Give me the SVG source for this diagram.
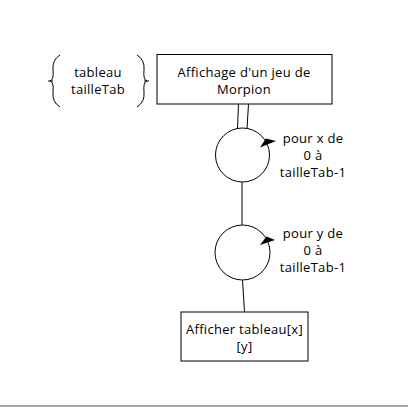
<svg xmlns="http://www.w3.org/2000/svg" width="408" height="407" viewBox="0 0 408 407">
<style>
.box{fill:#fff;stroke:#000;stroke-width:1}
.ln{fill:none;stroke:#000;stroke-width:1}
.t{font-family:"Open Sans",sans-serif;font-size:13px;letter-spacing:0.3px;fill:#000;text-anchor:middle}
</style>
<rect width="408" height="407" fill="#fff"/>
<g id="connectors">
<line class="ln" x1="238.5" y1="104" x2="237.5" y2="128.5"/>
<line class="ln" x1="248.5" y1="104" x2="247" y2="128.5"/>
<line class="ln" x1="242" y1="182" x2="242" y2="225"/>
<line class="ln" x1="242.5" y1="280" x2="244.5" y2="312"/>
</g>
<g id="params">
<path class="ln" d="M60,55 Q52,60 53,70 Q54,80 50,81 Q54,82 53,92 Q52,102 60,107"/>
<line class="ln" x1="48" y1="81" x2="53" y2="81"/>
<path class="ln" d="M137,55 Q145,60 144,70 Q143,80 147,81 Q143,82 144,92 Q145,102 137,107"/>
<line class="ln" x1="144" y1="81" x2="149" y2="81"/>
<text class="t" x="98" y="76.5">tableau</text>
<text class="t" x="98" y="93.5">tailleTab</text>
</g>
<g id="main">
<rect class="box" x="157" y="54.5" width="175" height="49.5"/>
<text class="t" x="244" y="77">Affichage d'un jeu de</text>
<text class="t" x="244" y="94">Morpion</text>
</g>
<g id="loopx">
<circle class="ln" cx="242.5" cy="155" r="27"/>
<polygon points="260,147.5 266,138.5 276,141" fill="#000"/>
<text class="t" x="313" y="142.5">pour x de</text>
<text class="t" x="313" y="159.5">0 à</text>
<text class="t" x="313" y="176.5">tailleTab-1</text>
</g>
<g id="loopy">
<circle class="ln" cx="242.5" cy="252.5" r="27.5"/>
<polygon points="260,245 266.5,236.5 275,240" fill="#000"/>
<text class="t" x="313" y="238">pour y de</text>
<text class="t" x="313" y="255">0 à</text>
<text class="t" x="313" y="272">tailleTab-1</text>
</g>
<g id="action">
<rect class="box" x="181" y="312" width="127" height="49"/>
<text class="t" x="244.5" y="333.5">Afficher tableau[x]</text>
<text class="t" x="244.5" y="350.5">[y]</text>
</g>
<line x1="0" y1="406" x2="408" y2="406" stroke="#888" stroke-width="1.5"/>
</svg>
